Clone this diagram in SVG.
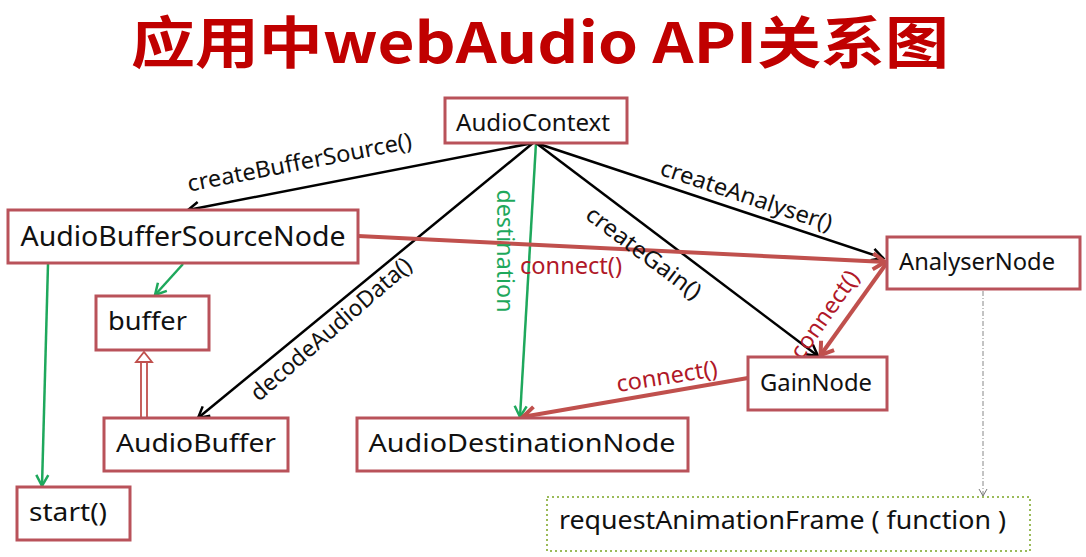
<svg xmlns="http://www.w3.org/2000/svg" width="1086" height="557" viewBox="0 0 1086 557">
<style>
.node rect{fill:#fff;stroke:#b9525a;stroke-width:3}
.node text, .lbl{font-family:"Noto Sans","Open Sans","Noto Sans CJK SC",sans-serif;fill:#111}
.blk{stroke:#000;stroke-width:2.5;fill:none}
.grn{stroke:#1ea85c;stroke-width:2.5;fill:none}
.red{stroke:#c0504d;stroke-width:4;fill:none}
.lbl{font-size:23px}
.rl{fill:#b01828}
.gl{fill:#1ea85c}
</style>
<defs>
<marker id="ab" markerUnits="userSpaceOnUse" markerWidth="24" markerHeight="24" viewBox="-12 -12 24 24" refX="0" refY="0" orient="auto">
<path d="M-11,-6 L0,0 L-11,6" fill="none" stroke="#000" stroke-width="2.5"/>
</marker>
<marker id="ag" markerUnits="userSpaceOnUse" markerWidth="24" markerHeight="24" viewBox="-12 -12 24 24" refX="0" refY="0" orient="auto">
<path d="M-11,-6 L0,0 L-11,6" fill="none" stroke="#1ea85c" stroke-width="2.5"/>
</marker>
<marker id="ar" markerUnits="userSpaceOnUse" markerWidth="30" markerHeight="30" viewBox="-15 -15 30 30" refX="0" refY="0" orient="auto">
<path d="M-13,-8 L-1,0 L-13,8" fill="none" stroke="#c0504d" stroke-width="4"/>
</marker>
<marker id="ad" markerUnits="userSpaceOnUse" markerWidth="16" markerHeight="16" viewBox="-8 -8 16 16" refX="0" refY="0" orient="auto">
<path d="M-7,-4 L0,0 L-7,4" fill="none" stroke="#777" stroke-width="1"/>
</marker>
</defs>
<rect width="1086" height="557" fill="#fff"/>
<text x="540" y="63" text-anchor="middle" font-family="'Noto Sans CJK SC',sans-serif" font-weight="bold" font-size="56" fill="#c00000" textLength="818" lengthAdjust="spacingAndGlyphs">应用中webAudio API关系图</text>

<g id="connectors">
<line class="blk" x1="533" y1="143" x2="188" y2="210" marker-end="url(#ab)"/>
<line class="blk" x1="533" y1="143" x2="198" y2="418" marker-end="url(#ab)"/>
<line class="grn" x1="536" y1="143" x2="520" y2="417" marker-end="url(#ag)"/>
<line class="blk" x1="536" y1="143" x2="818" y2="356" marker-end="url(#ab)"/>
<line class="blk" x1="536" y1="143" x2="883" y2="258" marker-end="url(#ab)"/>
<line class="red" x1="358" y1="236" x2="886" y2="262" marker-end="url(#ar)"/>
<line class="red" x1="886" y1="264" x2="820" y2="356" marker-end="url(#ar)"/>
<line class="red" x1="748" y1="378" x2="522" y2="417" marker-end="url(#ar)"/>
<line class="grn" x1="183" y1="264" x2="155" y2="295" marker-end="url(#ag)"/>
<line class="grn" x1="48" y1="264" x2="42" y2="486" marker-end="url(#ag)"/>
<path d="M141,418 V362 M147,418 V362 M136,362 H152 L144,352 Z" fill="#fff" stroke="#c0504d" stroke-width="1.8"/>
<line x1="983" y1="291" x2="983" y2="496" stroke="#888" stroke-width="1" stroke-dasharray="5 2 1 2" marker-end="url(#ad)"/>
<text class="lbl" x="0" y="0" text-anchor="middle" textLength="228" lengthAdjust="spacingAndGlyphs" transform="translate(301,170) rotate(-11)">createBufferSource()</text>
<text class="lbl" x="0" y="0" text-anchor="middle" textLength="205" lengthAdjust="spacingAndGlyphs" transform="translate(336,335) rotate(-41)">decodeAudioData()</text>
<text class="lbl gl" x="0" y="0" text-anchor="middle" textLength="123" lengthAdjust="spacingAndGlyphs" font-size="22" transform="translate(497,251) rotate(90)">destination</text>
<text class="lbl" x="0" y="0" text-anchor="middle" textLength="138" lengthAdjust="spacingAndGlyphs" transform="translate(639,259) rotate(37)">createGain()</text>
<text class="lbl" x="0" y="0" text-anchor="middle" textLength="180" lengthAdjust="spacingAndGlyphs" transform="translate(744,203) rotate(18.5)">createAnalyser()</text>
<text class="lbl rl" x="520" y="274" textLength="102" lengthAdjust="spacingAndGlyphs">connect()</text>
<text class="lbl rl" x="0" y="0" text-anchor="middle" textLength="102" lengthAdjust="spacingAndGlyphs" transform="translate(668,384) rotate(-9)">connect()</text>
<text class="lbl rl" x="0" y="0" text-anchor="middle" textLength="102" lengthAdjust="spacingAndGlyphs" transform="translate(831,319) rotate(-55)">connect()</text>
</g>

<g id="AudioContext" class="node"><rect x="445" y="98" width="182" height="45"/><text x="533" y="131" text-anchor="middle" font-size="23" textLength="154" lengthAdjust="spacingAndGlyphs">AudioContext</text></g>
<g id="AudioBufferSourceNode" class="node"><rect x="8" y="210" width="350" height="53"/><text x="183" y="246" text-anchor="middle" font-size="28" textLength="325" lengthAdjust="spacingAndGlyphs">AudioBufferSourceNode</text></g>
<g id="buffer" class="node"><rect x="96" y="296" width="113" height="54"/><text x="108" y="330" font-size="26" textLength="79" lengthAdjust="spacingAndGlyphs">buffer</text></g>
<g id="AudioBuffer" class="node"><rect x="104" y="418" width="184" height="53"/><text x="196" y="452" text-anchor="middle" font-size="26" textLength="160" lengthAdjust="spacingAndGlyphs">AudioBuffer</text></g>
<g id="start" class="node"><rect x="17" y="487" width="113" height="53"/><text x="29" y="521" font-size="26" textLength="78" lengthAdjust="spacingAndGlyphs">start()</text></g>
<g id="AudioDestinationNode" class="node"><rect x="357" y="418" width="331" height="53"/><text x="522" y="452" text-anchor="middle" font-size="26" textLength="307" lengthAdjust="spacingAndGlyphs">AudioDestinationNode</text></g>
<g id="GainNode" class="node"><rect x="748" y="357" width="139" height="53"/><text x="816" y="391" text-anchor="middle" font-size="24" textLength="112" lengthAdjust="spacingAndGlyphs">GainNode</text></g>
<g id="AnalyserNode" class="node"><rect x="887" y="237" width="193" height="52"/><text x="977" y="270" text-anchor="middle" font-size="23" textLength="156" lengthAdjust="spacingAndGlyphs">AnalyserNode</text></g>
<g id="requestAnimationFrame"><rect x="547" y="497" width="483" height="54" fill="#fff" stroke="#9bbb59" stroke-width="2" stroke-dasharray="2 3"/><text x="559" y="529" font-family="'Noto Sans','Open Sans',sans-serif" font-size="26" fill="#111" textLength="447" lengthAdjust="spacingAndGlyphs">requestAnimationFrame ( function )</text></g>
</svg>
